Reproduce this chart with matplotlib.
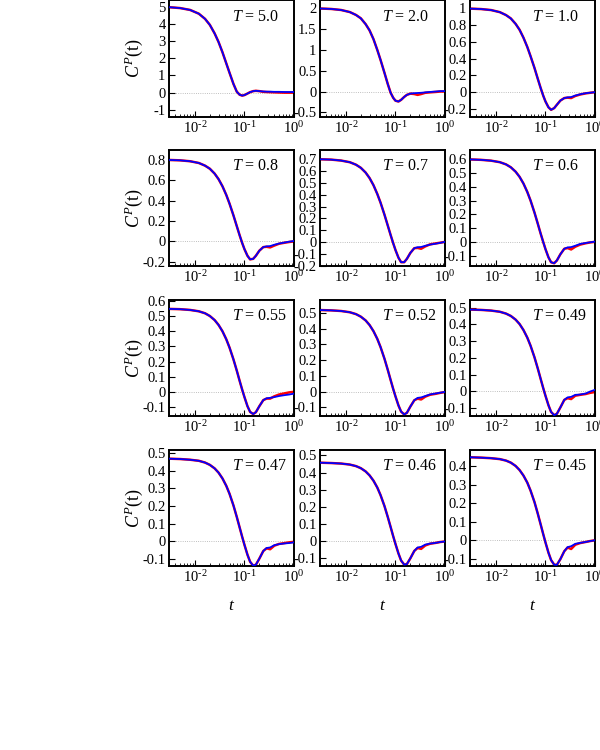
import math
import matplotlib
matplotlib.use('Agg')
import matplotlib.pyplot as plt
from matplotlib.ticker import FixedLocator, FuncFormatter, LogLocator, NullFormatter

matplotlib.rcParams.update({
    'font.family': 'serif',
    'font.serif': ['Liberation Serif', 'DejaVu Serif'],
    'mathtext.fontset': 'custom',
    'mathtext.rm': 'Liberation Serif',
    'mathtext.it': 'Liberation Serif:italic',
    'axes.unicode_minus': False,
})

# time grid shared by all panels
t = [0.003, 0.005, 0.008, 0.012, 0.016, 0.02, 0.025, 0.03, 0.036, 0.043,
     0.05, 0.06, 0.07, 0.08, 0.09, 0.1, 0.115, 0.13, 0.15, 0.17,
     0.2, 0.24, 0.28, 0.33, 0.4, 0.5, 0.65, 0.8, 1.0]

temps = ['5.0', '2.0', '1.0', '0.8', '0.7', '0.6', '0.55', '0.52', '0.49', '0.47', '0.46', '0.45']

blue = {
    '5.0': [4.98, 4.93, 4.82, 4.6, 4.3, 3.95, 3.45, 2.95, 2.35, 1.7,
            1.15, 0.5, 0.05, -0.13, -0.18, -0.15, -0.06, 0.02, 0.08, 0.1,
            0.08, 0.06, 0.05, 0.05, 0.04, 0.04, 0.03, 0.03, 0.03],
    '2.0': [1.995, 1.985, 1.96, 1.91, 1.84, 1.76, 1.62, 1.47, 1.26, 1.0,
            0.76, 0.45, 0.18, -0.03, -0.15, -0.22, -0.24, -0.2, -0.13, -0.08,
            -0.05, -0.04, -0.035, -0.03, -0.02, -0.01, 0.0, 0.01, 0.01],
    '1.0': [0.997, 0.992, 0.98, 0.955, 0.92, 0.88, 0.815, 0.745, 0.65, 0.54,
            0.43, 0.29, 0.16, 0.05, -0.04, -0.11, -0.18, -0.21, -0.19, -0.15,
            -0.10, -0.07, -0.062, -0.058, -0.04, -0.025, -0.012, -0.006, 0.0],
    '0.8': [0.798, 0.794, 0.785, 0.768, 0.742, 0.712, 0.664, 0.61, 0.54, 0.455,
            0.37, 0.255, 0.15, 0.06, -0.015, -0.075, -0.14, -0.175, -0.17, -0.14,
            -0.09, -0.055, -0.048, -0.045, -0.032, -0.02, -0.01, -0.002, 0.005],
    '0.7': [0.698, 0.695, 0.687, 0.673, 0.652, 0.626, 0.586, 0.54, 0.48, 0.406,
            0.333, 0.232, 0.14, 0.06, -0.008, -0.065, -0.13, -0.168, -0.168, -0.14,
            -0.09, -0.05, -0.042, -0.04, -0.03, -0.02, -0.012, -0.005, 0.003],
    '0.6': [0.598, 0.595, 0.589, 0.578, 0.562, 0.541, 0.509, 0.472, 0.423, 0.362,
            0.3, 0.213, 0.132, 0.06, 0.0, -0.052, -0.112, -0.148, -0.155, -0.135,
            -0.09, -0.05, -0.04, -0.038, -0.028, -0.015, -0.008, -0.003, 0.002],
    '0.55': [0.548, 0.546, 0.541, 0.532, 0.519, 0.501, 0.474, 0.442, 0.4, 0.347,
             0.292, 0.214, 0.14, 0.072, 0.014, -0.035, -0.095, -0.133, -0.147, -0.135,
             -0.095, -0.055, -0.043, -0.04, -0.035, -0.028, -0.022, -0.018, -0.012],
    '0.52': [0.518, 0.516, 0.512, 0.504, 0.492, 0.476, 0.452, 0.423, 0.384, 0.335,
             0.283, 0.209, 0.138, 0.073, 0.017, -0.03, -0.088, -0.127, -0.145, -0.135,
             -0.095, -0.055, -0.04, -0.037, -0.028, -0.018, -0.012, -0.007, -0.002],
    '0.49': [0.488, 0.486, 0.482, 0.475, 0.464, 0.45, 0.428, 0.402, 0.366, 0.321,
             0.273, 0.204, 0.137, 0.075, 0.021, -0.025, -0.082, -0.122, -0.141, -0.133,
             -0.095, -0.05, -0.035, -0.032, -0.02, -0.018, -0.012, 0.0, 0.01],
    '0.47': [0.468, 0.466, 0.462, 0.456, 0.446, 0.433, 0.413, 0.389, 0.356, 0.314,
             0.269, 0.203, 0.138, 0.078, 0.025, -0.02, -0.076, -0.116, -0.138, -0.133,
             -0.098, -0.055, -0.038, -0.035, -0.022, -0.016, -0.012, -0.01, -0.006],
    '0.46': [0.458, 0.456, 0.453, 0.447, 0.438, 0.426, 0.407, 0.384, 0.353, 0.313,
             0.269, 0.205, 0.141, 0.082, 0.029, -0.016, -0.072, -0.113, -0.137, -0.134,
             -0.1, -0.057, -0.037, -0.033, -0.02, -0.014, -0.01, -0.005, -0.002],
    '0.45': [0.448, 0.446, 0.443, 0.438, 0.43, 0.419, 0.401, 0.379, 0.349, 0.311,
             0.268, 0.206, 0.143, 0.085, 0.033, -0.012, -0.068, -0.108, -0.133, -0.134,
             -0.103, -0.06, -0.038, -0.033, -0.02, -0.015, -0.01, -0.005, -0.001],
}

# red curve follows blue up to t = 0.2, these are its values from t = 0.24 on
red_tail = {
    '5.0': [0.04, 0.03, 0.02, 0.01, 0.0, -0.01, -0.01, -0.01],
    '2.0': [-0.06, -0.08, -0.06, -0.03, -0.02, -0.01, 0.0, 0.0],
    '1.0': [-0.07, -0.065, -0.07, -0.045, -0.028, -0.014, -0.007, 0.0],
    '0.8': [-0.055, -0.052, -0.058, -0.04, -0.022, -0.012, -0.005, 0.0],
    '0.7': [-0.05, -0.048, -0.055, -0.035, -0.018, -0.01, -0.004, 0.003],
    '0.6': [-0.05, -0.045, -0.055, -0.035, -0.02, -0.01, -0.004, 0.0],
    '0.55': [-0.055, -0.045, -0.045, -0.03, -0.018, -0.01, -0.004, 0.0],
    '0.52': [-0.055, -0.045, -0.05, -0.032, -0.02, -0.014, -0.008, -0.003],
    '0.49': [-0.05, -0.04, -0.045, -0.025, -0.02, -0.015, -0.008, -0.003],
    '0.47': [-0.055, -0.04, -0.045, -0.025, -0.015, -0.01, -0.006, -0.003],
    '0.46': [-0.057, -0.04, -0.045, -0.025, -0.015, -0.01, -0.005, -0.002],
    '0.45': [-0.06, -0.04, -0.048, -0.025, -0.016, -0.01, -0.005, -0.001],
}

ylims = {
    '5.0': (-1.4, 5.4), '2.0': (-0.6, 2.2), '1.0': (-0.29, 1.1),
    '0.8': (-0.24, 0.9), '0.7': (-0.2, 0.78), '0.6': (-0.175, 0.67),
    '0.55': (-0.16, 0.61), '0.52': (-0.155, 0.585), '0.49': (-0.146, 0.548),
    '0.47': (-0.14, 0.52), '0.46': (-0.145, 0.535), '0.45': (-0.14, 0.49),
}

yticks = {
    '5.0': [-1, 0, 1, 2, 3, 4, 5],
    '2.0': [-0.5, 0, 0.5, 1, 1.5, 2],
    '1.0': [-0.2, 0, 0.2, 0.4, 0.6, 0.8, 1],
    '0.8': [-0.2, 0, 0.2, 0.4, 0.6, 0.8],
    '0.7': [-0.2, -0.1, 0, 0.1, 0.2, 0.3, 0.4, 0.5, 0.6, 0.7],
    '0.6': [-0.1, 0, 0.1, 0.2, 0.3, 0.4, 0.5, 0.6],
    '0.55': [-0.1, 0, 0.1, 0.2, 0.3, 0.4, 0.5, 0.6],
    '0.52': [-0.1, 0, 0.1, 0.2, 0.3, 0.4, 0.5],
    '0.49': [-0.1, 0, 0.1, 0.2, 0.3, 0.4, 0.5],
    '0.47': [-0.1, 0, 0.1, 0.2, 0.3, 0.4, 0.5],
    '0.46': [-0.1, 0, 0.1, 0.2, 0.3, 0.4, 0.5],
    '0.45': [-0.1, 0, 0.1, 0.2, 0.3, 0.4],
}

W, H = 600, 750
col_left = [169, 320, 470]
row_top = [0, 149.5, 299.5, 449.5]
ax_w, ax_h = 125, 116.5


def make_axes(fig, row, col):
    left = col_left[col] / W
    bottom = 1 - (row_top[row] + ax_h) / H
    return fig.add_axes([left, bottom, ax_w / W, ax_h / H])


def log_label(v, p):
    e = int(round(math.log10(v)))
    return rf'$10^{{{e}}}$'.replace('-', r'\text{-}')


def draw_panel(ax, T, first_col, last_row):
    red = blue[T][:21] + red_tail[T]
    ax.axhline(0, color='#aaaaaa', lw=0.6, ls=':', zorder=1)
    ax.plot(t, red, color='red', lw=1.8, zorder=2)
    ax.plot(t, blue[T], color='blue', lw=1.3, zorder=3)
    ax.set_xscale('log')
    ax.set_xlim(0.003, 1.0)
    ax.set_ylim(*ylims[T])

    ax.xaxis.set_major_locator(LogLocator(base=10, numticks=10))
    ax.xaxis.set_major_formatter(FuncFormatter(log_label))
    ax.xaxis.set_minor_locator(LogLocator(base=10, subs=range(2, 10), numticks=20))
    ax.xaxis.set_minor_formatter(NullFormatter())
    ax.yaxis.set_major_locator(FixedLocator(yticks[T]))
    ax.yaxis.set_major_formatter(FuncFormatter(lambda v, p: f'{round(v, 2):g}'))

    ax.tick_params(axis='both', which='major', direction='in', length=4, width=0.8,
                   labelsize=10.5, top=False, right=False, pad=2.5)
    ax.tick_params(axis='x', which='minor', direction='in', length=2.2, width=0.6, top=False)
    for sp in ax.spines.values():
        sp.set_linewidth(1.4)

    ax.text(0.5, 0.855, rf'$T$ = {T}', transform=ax.transAxes,
            ha='left', va='center', fontsize=11.5)
    if first_col:
        ax.set_ylabel(r'$C^{P}$(t)', fontsize=13)
        ax.yaxis.set_label_coords(-0.19, 0.5)
    if last_row:
        ax.set_xlabel(r'$t$', fontsize=12.5, labelpad=9)


def main():
    fig = plt.figure(figsize=(W / 100, H / 100), dpi=100)
    for i, T in enumerate(temps):
        row, col = divmod(i, 3)
        ax = make_axes(fig, row, col)
        draw_panel(ax, T, col == 0, row == 3)
    fig.savefig('out.png', dpi=100)


if __name__ == '__main__':
    main()
